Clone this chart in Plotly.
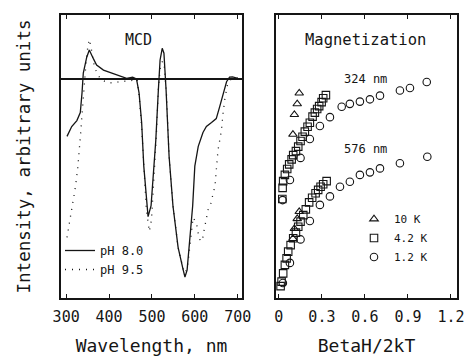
import plotly.graph_objects as go

# ---------------- MCD spectra (left panel) ----------------
wl_ph80 = [302, 313, 325, 333, 337, 340, 348, 354, 364, 371, 387, 418, 441, 455, 464, 470,
           476, 481, 488, 491, 498, 503, 509, 515, 519, 524, 528, 533, 540, 549, 561, 573,
           577, 582, 588, 595, 600, 608, 619, 627, 639, 650, 658, 666, 674, 681, 688, 700]
mcd_ph80 = [-0.29, -0.24, -0.21, -0.17, -0.07, 0.03, 0.11, 0.146, 0.10, 0.07, 0.045, 0.02,
            0.003, 0.009, 0.0, -0.07, -0.22, -0.44, -0.64, -0.695, -0.64, -0.51, -0.31,
            -0.056, 0.096, 0.155, 0.13, -0.056, -0.39, -0.64, -0.85, -0.965, -1.0, -0.965,
            -0.81, -0.64, -0.44, -0.34, -0.27, -0.24, -0.22, -0.20, -0.14, -0.07, -0.014,
            0.009, 0.01, 0.003]

wl_ph95 = [302, 308, 315, 322, 327, 331, 334, 337, 340, 343, 347, 351, 354, 358, 362, 366,
           372, 380, 395, 410, 430, 450, 465, 470, 476, 481, 487, 494, 499, 504, 510, 515,
           520, 525, 529, 534, 540, 549, 561, 573, 578, 584, 590, 596, 604, 608, 613, 618,
           621, 627, 631, 636, 641, 647, 654, 662, 666, 670, 677, 685, 700]
mcd_ph95 = [-0.80, -0.72, -0.64, -0.54, -0.45, -0.36, -0.27, -0.18, -0.08, 0.02, 0.10, 0.17,
            0.20, 0.16, 0.10, 0.06, 0.03, 0.0, -0.018, -0.02, -0.012, -0.01, 0.0, -0.08,
            -0.24, -0.46, -0.66, -0.77, -0.71, -0.52, -0.30, -0.05, 0.07, 0.09, 0.06, -0.08,
            -0.39, -0.64, -0.85, -0.96, -0.98, -0.93, -0.82, -0.70, -0.73, -0.78, -0.82,
            -0.81, -0.77, -0.70, -0.66, -0.64, -0.60, -0.54, -0.36, -0.26, -0.17, -0.10,
            -0.02, 0.0, 0.005]

wl_ticks = [300, 400, 500, 600, 700]

# ---------------- Magnetization (right panel) ----------------
# 10 K
b10_324 = [0.142, 0.128, 0.108, 0.098]
m10_324 = [0.724, 0.686, 0.648, 0.578]
b10_576 = [0.142, 0.128, 0.108, 0.098]
m10_576 = [0.305, 0.280, 0.245, 0.210]
# 4.2 K
b42_324 = [0.328, 0.309, 0.298, 0.281, 0.267, 0.251, 0.235, 0.216, 0.200, 0.181, 0.165,
           0.151, 0.135, 0.119, 0.100, 0.089, 0.072, 0.058, 0.042, 0.030, 0.026, 0.024]
m42_324 = [0.717, 0.706, 0.692, 0.678, 0.668, 0.655, 0.641, 0.619, 0.605, 0.588, 0.570,
           0.555, 0.535, 0.519, 0.505, 0.490, 0.472, 0.456, 0.435, 0.413, 0.389, 0.350]
b42_576 = [0.333, 0.309, 0.291, 0.274, 0.256, 0.232, 0.211, 0.188, 0.170, 0.151, 0.135,
           0.119, 0.100, 0.082, 0.065, 0.054, 0.042, 0.030, 0.019, 0.012]
m42_576 = [0.413, 0.402, 0.393, 0.382, 0.370, 0.354, 0.338, 0.313, 0.293, 0.270, 0.252,
           0.231, 0.211, 0.187, 0.164, 0.140, 0.117, 0.087, 0.058, 0.042]
# 1.2 K
b12_324 = [1.031, 0.914, 0.844, 0.705, 0.635, 0.565, 0.495, 0.438, 0.356, 0.286, 0.216,
           0.151, 0.077, 0.026]
m12_324 = [0.763, 0.742, 0.733, 0.715, 0.702, 0.694, 0.686, 0.676, 0.639, 0.608, 0.562,
           0.495, 0.417, 0.346]
b12_576 = [1.035, 0.844, 0.705, 0.635, 0.565, 0.495, 0.426, 0.356, 0.286, 0.216, 0.151,
           0.077, 0.028]
m12_576 = [0.499, 0.476, 0.458, 0.444, 0.435, 0.411, 0.393, 0.359, 0.329, 0.272, 0.207,
           0.124, 0.053]

b_ticks = [0, 0.3, 0.6, 0.9, 1.2]
b_ticktext = ["0", "0.3", "0.6", "0.9", "1.2"]

INK = "#151515"
FONT = "DejaVu Sans Mono"

fig = go.Figure()

fig.add_trace(go.Scatter(x=wl_ph80, y=mcd_ph80, mode="lines", name="pH 8.0",
                         line=dict(color=INK, width=1.3), xaxis="x", yaxis="y",
                         legend="legend"))
fig.add_trace(go.Scatter(x=wl_ph95, y=mcd_ph95, mode="lines", name="pH 9.5",
                         line=dict(color=INK, width=1.3, dash="1px,6px"), xaxis="x", yaxis="y",
                         legend="legend"))

mk = dict(color=INK, size=7.5, line=dict(color=INK, width=1.1))
fig.add_trace(go.Scatter(x=b10_324 + b10_576, y=m10_324 + m10_576, mode="markers", name="10 K",
                         marker=dict(mk, symbol="triangle-up-open"), xaxis="x2", yaxis="y2",
                         legend="legend2"))
fig.add_trace(go.Scatter(x=b42_324 + b42_576, y=m42_324 + m42_576, mode="markers", name="4.2 K",
                         marker=dict(mk, symbol="square-open"), xaxis="x2", yaxis="y2",
                         legend="legend2"))
fig.add_trace(go.Scatter(x=b12_324 + b12_576, y=m12_324 + m12_576, mode="markers", name="1.2 K",
                         marker=dict(mk, symbol="circle-open"), xaxis="x2", yaxis="y2",
                         legend="legend2"))

W, H = 464, 356
ydom = [1 - 298 / H, 1 - 15 / H]

common_x = dict(showline=True, linecolor=INK, linewidth=1.5, mirror="allticks",
                ticks="inside", ticklen=4, tickcolor=INK, tickwidth=1.2,
                showgrid=False, zeroline=False, tickfont=dict(size=15, color=INK),
                ticklabelstandoff=4, ticklabeloverflow="allow", automargin=False)
common_y = dict(showline=True, linecolor=INK, linewidth=1.5, mirror=True,
                showgrid=False, showticklabels=False, ticks="", automargin=False)

fig.update_layout(
    width=W, height=H,
    margin=dict(l=0, r=0, t=0, b=0),
    paper_bgcolor="white", plot_bgcolor="white",
    font=dict(family=FONT, color=INK),
    xaxis=dict(common_x, domain=[61 / W, 242 / W], range=[288, 710], tickvals=wl_ticks,
               title=dict(text="Wavelength, nm", font=dict(size=18), standoff=16),
               anchor="y"),
    yaxis=dict(common_y, domain=ydom, range=[-1.106, 0.323], zeroline=True,
               zerolinecolor=INK, zerolinewidth=1.5,
               title=dict(text="Intensity, arbitrary units", font=dict(size=17.5), standoff=24),
               anchor="x"),
    xaxis2=dict(common_x, domain=[276 / W, 457 / W], range=[-0.02, 1.242], tickvals=b_ticks,
                ticktext=b_ticktext,
                title=dict(text="BetaH/2kT", font=dict(size=18), standoff=16),
                anchor="y2"),
    yaxis2=dict(common_y, domain=ydom, range=[0, 1], zeroline=False, anchor="x2"),
    legend=dict(x=60 / W, y=1 - 260 / H, xanchor="left", yanchor="middle",
                bgcolor="rgba(0,0,0,0)", borderwidth=0, font=dict(size=12, color=INK),
                itemwidth=30, tracegroupgap=0),
    legend2=dict(x=354 / W, y=1 - 238 / H, xanchor="left", yanchor="middle",
                 bgcolor="rgba(0,0,0,0)", borderwidth=0, font=dict(size=11, color=INK),
                 itemwidth=30, tracegroupgap=0),
    annotations=[
        dict(text="MCD", x=468, y=0.197, xref="x", yref="y", showarrow=False,
             font=dict(size=15, color=INK)),
        dict(text="Magnetization", x=0.606, y=0.912, xref="x2", yref="y2", showarrow=False,
             font=dict(size=15.5, color=INK)),
        dict(text="324 nm", x=0.606, y=0.774, xref="x2", yref="y2", showarrow=False,
             font=dict(size=12, color=INK)),
        dict(text="576 nm", x=0.606, y=0.527, xref="x2", yref="y2", showarrow=False,
             font=dict(size=12, color=INK)),
    ],
)

fig.write_html("out.html", config={"displayModeBar": False},
               post_script="document.body.style.margin='0';document.body.style.overflow='hidden';")
